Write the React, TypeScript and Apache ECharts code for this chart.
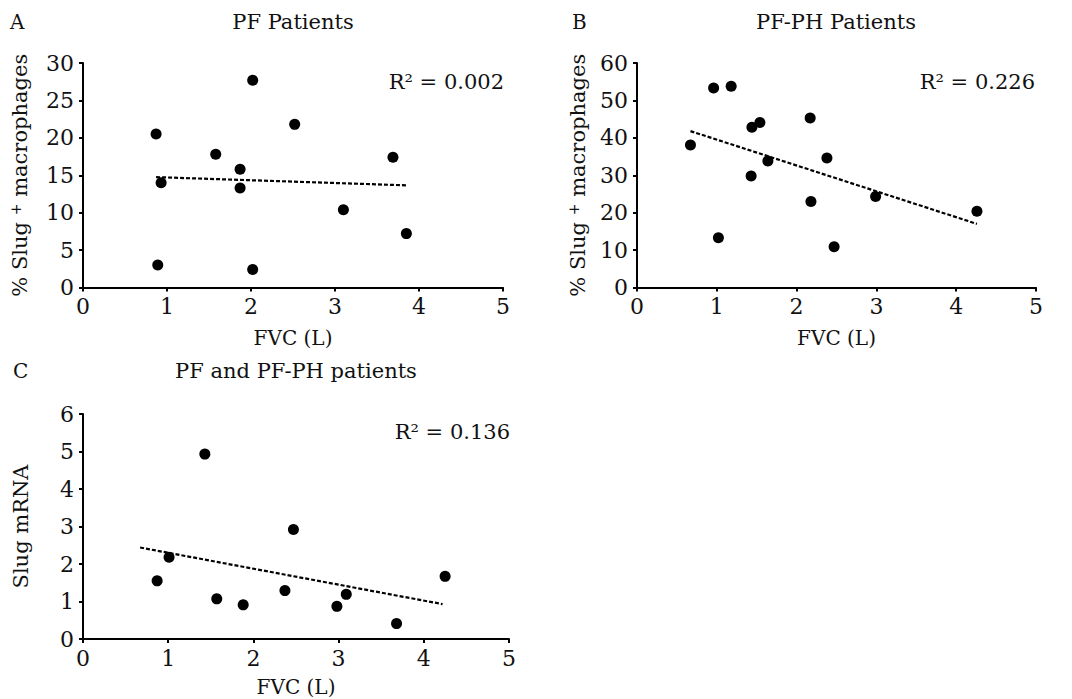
import React, { useEffect, useRef } from "react";
import * as echarts from "echarts";

const pfFvc = [0.87, 0.93, 0.89, 1.58, 1.87, 1.87, 2.02, 2.02, 2.52, 3.1, 3.69, 3.85];
const pfSlug = [20.5, 14.0, 3.0, 17.8, 15.8, 13.3, 27.7, 2.4, 21.8, 10.4, 17.4, 7.2];
const pfTrendX = [0.87, 3.85];
const pfTrendY = [14.75, 13.65];

const phFvc = [0.67, 0.96, 1.18, 1.02, 1.44, 1.54, 1.43, 1.64, 2.17, 2.18, 2.38, 2.47, 2.99, 4.26];
const phSlug = [38.1, 53.3, 53.8, 13.3, 42.8, 44.1, 29.8, 33.8, 45.3, 23.0, 34.6, 10.9, 24.3, 20.4];
const phTrendX = [0.67, 4.26];
const phTrendY = [41.8, 17.0];

const allFvc = [0.87, 1.01, 1.43, 1.57, 1.88, 2.37, 2.47, 2.98, 3.09, 3.68, 4.25];
const allMrna = [1.55, 2.18, 4.93, 1.07, 0.91, 1.29, 2.92, 0.87, 1.19, 0.41, 1.67];
const allTrendX = [0.67, 4.22];
const allTrendY = [2.44, 0.93];

const titles = ["PF Patients", "PF-PH Patients", "PF and PF-PH patients"];
const letters = ["A", "B", "C"];
const rSquared = ["0.002", "0.226", "0.136"];
const yNames = ["% Slug {sup|+} macrophages", "% Slug {sup|+} macrophages", "Slug mRNA"];
const yMax = [30, 60, 6];
const yInt = [5, 10, 1];

const FONT = "DejaVu Serif";

const zip = (xs: number[], ys: number[]) => xs.map((x, i) => [x, ys[i]]);

export default function App() {
  const ref = useRef<HTMLDivElement>(null);
  useEffect(() => {
    document.body.style.margin = "0";
    if (!ref.current) return;
    const chart = echarts.init(ref.current, null, { renderer: "svg" });

    const grids = [
      { left: 83, top: 63, width: 420, height: 224.5 },
      { left: 637, top: 63, width: 399, height: 224.5 },
      { left: 83, top: 414, width: 426, height: 225 },
    ];
    const yGaps = [52, 48, 52];
    const xGaps = [40, 40, 38];

    const axisCommon = {
      axisLine: { show: true, lineStyle: { color: "#000", width: 2, opacity: 1 } },
      axisTick: { show: true, length: 4, lineStyle: { color: "#000", width: 2 } },
      splitLine: { show: false },
    };

    const xAxis = grids.map((_, i) => ({
      type: "value",
      gridIndex: i,
      min: 0,
      max: 5,
      interval: 1,
      name: "FVC (L)",
      nameLocation: "middle",
      nameGap: xGaps[i],
      nameTextStyle: { fontFamily: FONT, fontSize: 20, color: "#111" },
      axisLabel: { fontFamily: FONT, fontSize: 22, color: "#111", margin: 8 },
      ...axisCommon,
    }));

    const yAxis = grids.map((_, i) => ({
      type: "value",
      gridIndex: i,
      min: 0,
      max: yMax[i],
      interval: yInt[i],
      name: yNames[i],
      nameLocation: "middle",
      nameGap: yGaps[i],
      nameRotate: 90,
      nameTextStyle: {
        fontFamily: FONT,
        fontSize: 21,
        color: "#111",
        rich: {
          sup: { fontFamily: FONT, fontSize: 14, color: "#111", verticalAlign: "top", padding: [0, 0, 8, 0] },
        },
      },
      axisLabel: { fontFamily: FONT, fontSize: 22, color: "#111", margin: 9 },
      ...axisCommon,
    }));

    const scatter = (i: number, xs: number[], ys: number[]) => ({
      type: "scatter",
      xAxisIndex: i,
      yAxisIndex: i,
      symbol: "circle",
      symbolSize: 11,
      itemStyle: { color: "#000", opacity: 1 },
      data: zip(xs, ys),
      z: 3,
    });
    const trend = (i: number, xs: number[], ys: number[]) => ({
      type: "line",
      xAxisIndex: i,
      yAxisIndex: i,
      showSymbol: false,
      symbol: "none",
      lineStyle: { color: "#000", width: 2.2, type: [4, 2] },
      data: zip(xs, ys),
      z: 2,
    });

    const titleX = [293, 836, 296];
    const titleY = [22, 22, 371];
    const letterX = [10, 572, 13];
    const rRight = [504, 1035, 510];
    const rY = [82, 82, 432];

    const graphic: any[] = [];
    for (let i = 0; i < 3; i++) {
      graphic.push({
        type: "text",
        x: titleX[i],
        y: titleY[i],
        style: { text: titles[i], fontFamily: FONT, fontSize: 21, fill: "#111", align: "center", verticalAlign: "middle" },
      });
      graphic.push({
        type: "text",
        x: letterX[i],
        y: titleY[i],
        style: { text: letters[i], fontFamily: FONT, fontSize: 20, fill: "#111", align: "left", verticalAlign: "middle" },
      });
      graphic.push({
        type: "text",
        x: rRight[i],
        y: rY[i],
        style: { text: "R² = " + rSquared[i], fontFamily: FONT, fontSize: 21, fill: "#111", align: "right", verticalAlign: "middle" },
      });
    }

    chart.setOption({
      animation: false,
      backgroundColor: "#fff",
      grid: grids,
      xAxis,
      yAxis,
      series: [
        scatter(0, pfFvc, pfSlug),
        trend(0, pfTrendX, pfTrendY),
        scatter(1, phFvc, phSlug),
        trend(1, phTrendX, phTrendY),
        scatter(2, allFvc, allMrna),
        trend(2, allTrendX, allTrendY),
      ],
      graphic,
    });
    return () => chart.dispose();
  }, []);
  return <div ref={ref} style={{ width: 1072, height: 699 }} />;
}
